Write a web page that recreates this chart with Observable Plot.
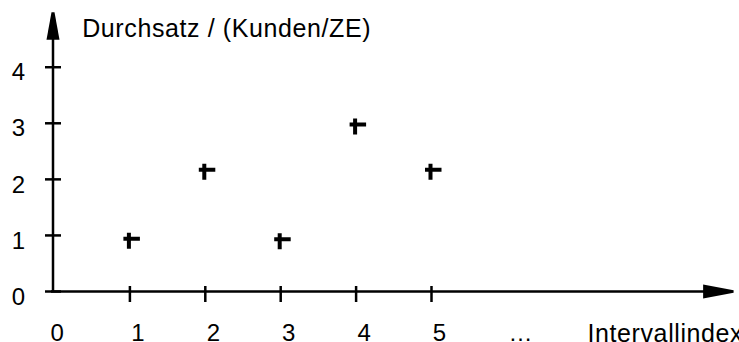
<!DOCTYPE html>
<html><head><meta charset="utf-8">
<script src="https://cdn.jsdelivr.net/npm/d3@7"></script>
<script src="https://cdn.jsdelivr.net/npm/@observablehq/plot@0.6"></script>
<style>body{margin:0;background:#fff;}</style>
</head><body><div id="chart"></div>
<script>
const intervals = [1, 2, 3, 4, 5];
const throughput = [0.94, 2.17, 0.93, 2.98, 2.17];
const xTickValues = [1, 2, 3, 4, 5];
const yTickValues = [0, 1, 2, 3, 4];
const originLabel = "0";
const ellipsisLabel = "…";
const xTitle = "Intervallindex";
const yTitle = "Durchsatz / (Kunden/ZE)";
const xMax = 9;
const yMax = 5;

const points = intervals.map((x, i) => ({x, y: throughput[i]}));

const plusSymbol = {draw(ctx) { ctx.moveTo(-6.5, 0); ctx.lineTo(10, 0); ctx.moveTo(-1, -6); ctx.lineTo(-1, 10); }};
const upArrow = {draw(ctx) { ctx.moveTo(-1.5, 1); ctx.lineTo(1.5, 1); ctx.lineTo(6.5, 28.5); ctx.lineTo(-6.5, 28.5); ctx.closePath(); }};
const rightArrow = {draw(ctx) { ctx.moveTo(0.5, -1.2); ctx.lineTo(0.5, 1.2); ctx.lineTo(-30, 7); ctx.lineTo(-30, -7); ctx.closePath(); }};

const font = 24;
const chart = Plot.plot({
  width: 739, height: 342,
  marginLeft: 54, marginRight: 6.4, marginTop: 10.65, marginBottom: 51,
  style: {fontFamily: "'Liberation Sans', Arial, sans-serif", background: "white", color: "black"},
  x: {domain: [0, xMax], label: null},
  y: {domain: [0, yMax], label: null},
  marks: [
    Plot.ruleY([0], {y: d => d, x1: 0, x2: xMax, insetLeft: -3, insetRight: 10, strokeWidth: 2.5, stroke: "black"}),
    Plot.ruleX([0], {x: d => d, y1: yMax, y2: 0, dx: -1.5, insetTop: 10, insetBottom: -1, strokeWidth: 2.5, stroke: "black"}),
    Plot.dot([0], {x: xMax, y: 0, symbol: rightArrow, r: 5, fill: "black", stroke: "none"}),
    Plot.dot([0], {x: 0, y: yMax, symbol: upArrow, r: 5, fill: "black", stroke: "none", dx: -1.5}),
    Plot.axisX(xTickValues, {tickSize: 16, dy: -5, strokeWidth: 2.5, tickFormat: () => "", label: null}),
    Plot.axisY(yTickValues, {tickSize: 16, dx: 7, strokeWidth: 2.5, tickFormat: () => "", label: null}),
    Plot.text(xTickValues, {x: d => d, frameAnchor: "bottom", textAnchor: "middle", lineAnchor: "middle", dx: 8, dy: 42, text: d => String(d), fontSize: font}),
    Plot.text([originLabel], {frameAnchor: "bottom-left", textAnchor: "middle", lineAnchor: "middle", dx: 2.7, dy: 42, text: d => d, fontSize: font}),
    Plot.text([ellipsisLabel], {frameAnchor: "bottom-left", textAnchor: "middle", lineAnchor: "middle", dx: 466, dy: 42, text: d => d, fontSize: font}),
    Plot.text([xTitle], {frameAnchor: "bottom-right", textAnchor: "start", lineAnchor: "middle", dx: -145.6, dy: 42, text: d => d, fontSize: 25}),
    Plot.text(yTickValues, {y: d => d, frameAnchor: "left", textAnchor: "middle", lineAnchor: "middle", dx: -36, dy: 5.5, text: d => String(d), fontSize: font}),
    Plot.text([yTitle], {frameAnchor: "top-left", textAnchor: "start", lineAnchor: "middle", dx: 27.7, dy: 17.5, text: d => d, fontSize: 25}),
    Plot.dot(points, {x: "x", y: "y", symbol: plusSymbol, r: 8, fill: "none", stroke: "black", strokeWidth: 4})
  ]
});
d3.select(chart).selectAll("text").each(function() {
  const t = this.textContent;
  if (t === xTitle || t === yTitle) d3.select(this).attr("letter-spacing", "0.6px");
});
document.getElementById("chart").appendChild(chart);
</script>
</body></html>
